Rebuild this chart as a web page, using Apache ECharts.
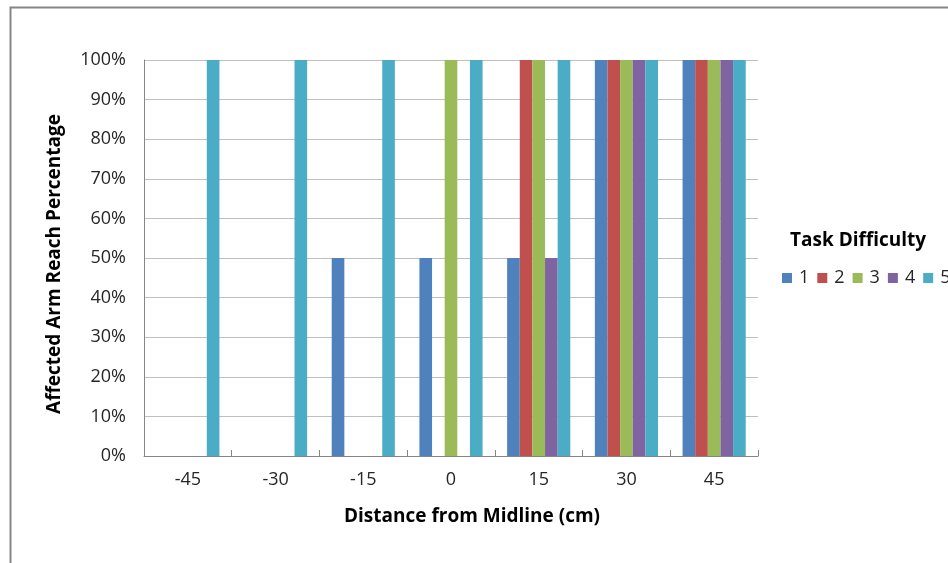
<!DOCTYPE html>
<html>
<head>
<meta charset="utf-8">
<script src="https://cdn.jsdelivr.net/npm/echarts@6/dist/echarts.min.js"></script>
<style>html,body{margin:0;padding:0;background:#fff}#c{width:948px;height:563px}</style>
</head>
<body>
<div id="c"></div>
<script>
const categories = ['-45', '-30', '-15', '0', '15', '30', '45'];
const seriesNames = ['1', '2', '3', '4', '5'];
const s1 = [0, 0, 50, 50, 50, 100, 100];
const s2 = [0, 0, 0, 0, 100, 100, 100];
const s3 = [0, 0, 0, 100, 100, 100, 100];
const s4 = [0, 0, 0, 0, 50, 100, 100];
const s5 = [100, 100, 100, 100, 100, 100, 100];
const yTicks = [0, 10, 20, 30, 40, 50, 60, 70, 80, 90, 100];
const colors = ['#4F81BD', '#C0504D', '#9BBB59', '#8064A2', '#4BACC6'];
const values = [s1, s2, s3, s4, s5];
const FONT = '"Open Sans"';

const chart = echarts.init(document.getElementById('c'), null, {renderer: 'canvas'});
chart.setOption({
  animation: false,
  backgroundColor: '#fff',
  color: colors,
  grid: {left: 144, right: 190, top: 60, bottom: 107, containLabel: false},
  xAxis: {
    type: 'category',
    data: categories,
    axisLine: {lineStyle: {color: '#868686', width: 1}},
    axisTick: {show: true, inside: true, length: 6, alignWithLabel: false, lineStyle: {color: '#868686'}},
    axisLabel: {fontFamily: FONT, fontSize: 18, color: '#262626', margin: 15}
  },
  yAxis: {
    type: 'value',
    min: yTicks[0],
    max: yTicks[yTicks.length - 1],
    interval: 10,
    axisLine: {show: true, lineStyle: {color: '#868686', width: 1}},
    axisTick: {show: false},
    splitLine: {lineStyle: {color: '#BFBFBF', width: 1}},
    axisLabel: {fontFamily: FONT, fontSize: 18, color: '#262626', margin: 18, formatter: '{value}%'}
  },
  legend: {
    left: 777,
    top: 264,
    width: 300,
    orient: 'horizontal',
    icon: 'rect',
    itemWidth: 10,
    itemHeight: 10,
    itemGap: 8,
    textStyle: {fontFamily: FONT, fontSize: 18, color: '#262626', padding: [0, 0, 0, 2]},
    data: seriesNames
  },
  graphic: [
    {type: 'rect', left: 8, top: 5, shape: {x: 0, y: 0, width: 1100, height: 1100}, style: {fill: 'none', stroke: '#868686', lineWidth: 2}, silent: true},
    {type: 'text', x: 790, y: 241, style: {text: 'Task Difficulty', font: 'bold 19px ' + FONT, fill: '#000', textVerticalAlign: 'middle'}},
    {type: 'text', x: 472, y: 517, style: {text: 'Distance from Midline (cm)', font: 'bold 19px ' + FONT, fill: '#000', textAlign: 'center', textVerticalAlign: 'middle'}},
    {type: 'text', x: 55, y: 264, rotation: Math.PI / 2, style: {text: 'Affected Arm Reach Percentage', font: 'bold 19px ' + FONT, fill: '#000', textAlign: 'center', textVerticalAlign: 'middle'}}
  ],
  series: seriesNames.map((n, i) => ({
    name: n,
    type: 'bar',
    data: values[i],
    barGap: '0%',
    barCategoryGap: '28%',
    itemStyle: {color: colors[i]}
  }))
});
</script>
</body>
</html>
